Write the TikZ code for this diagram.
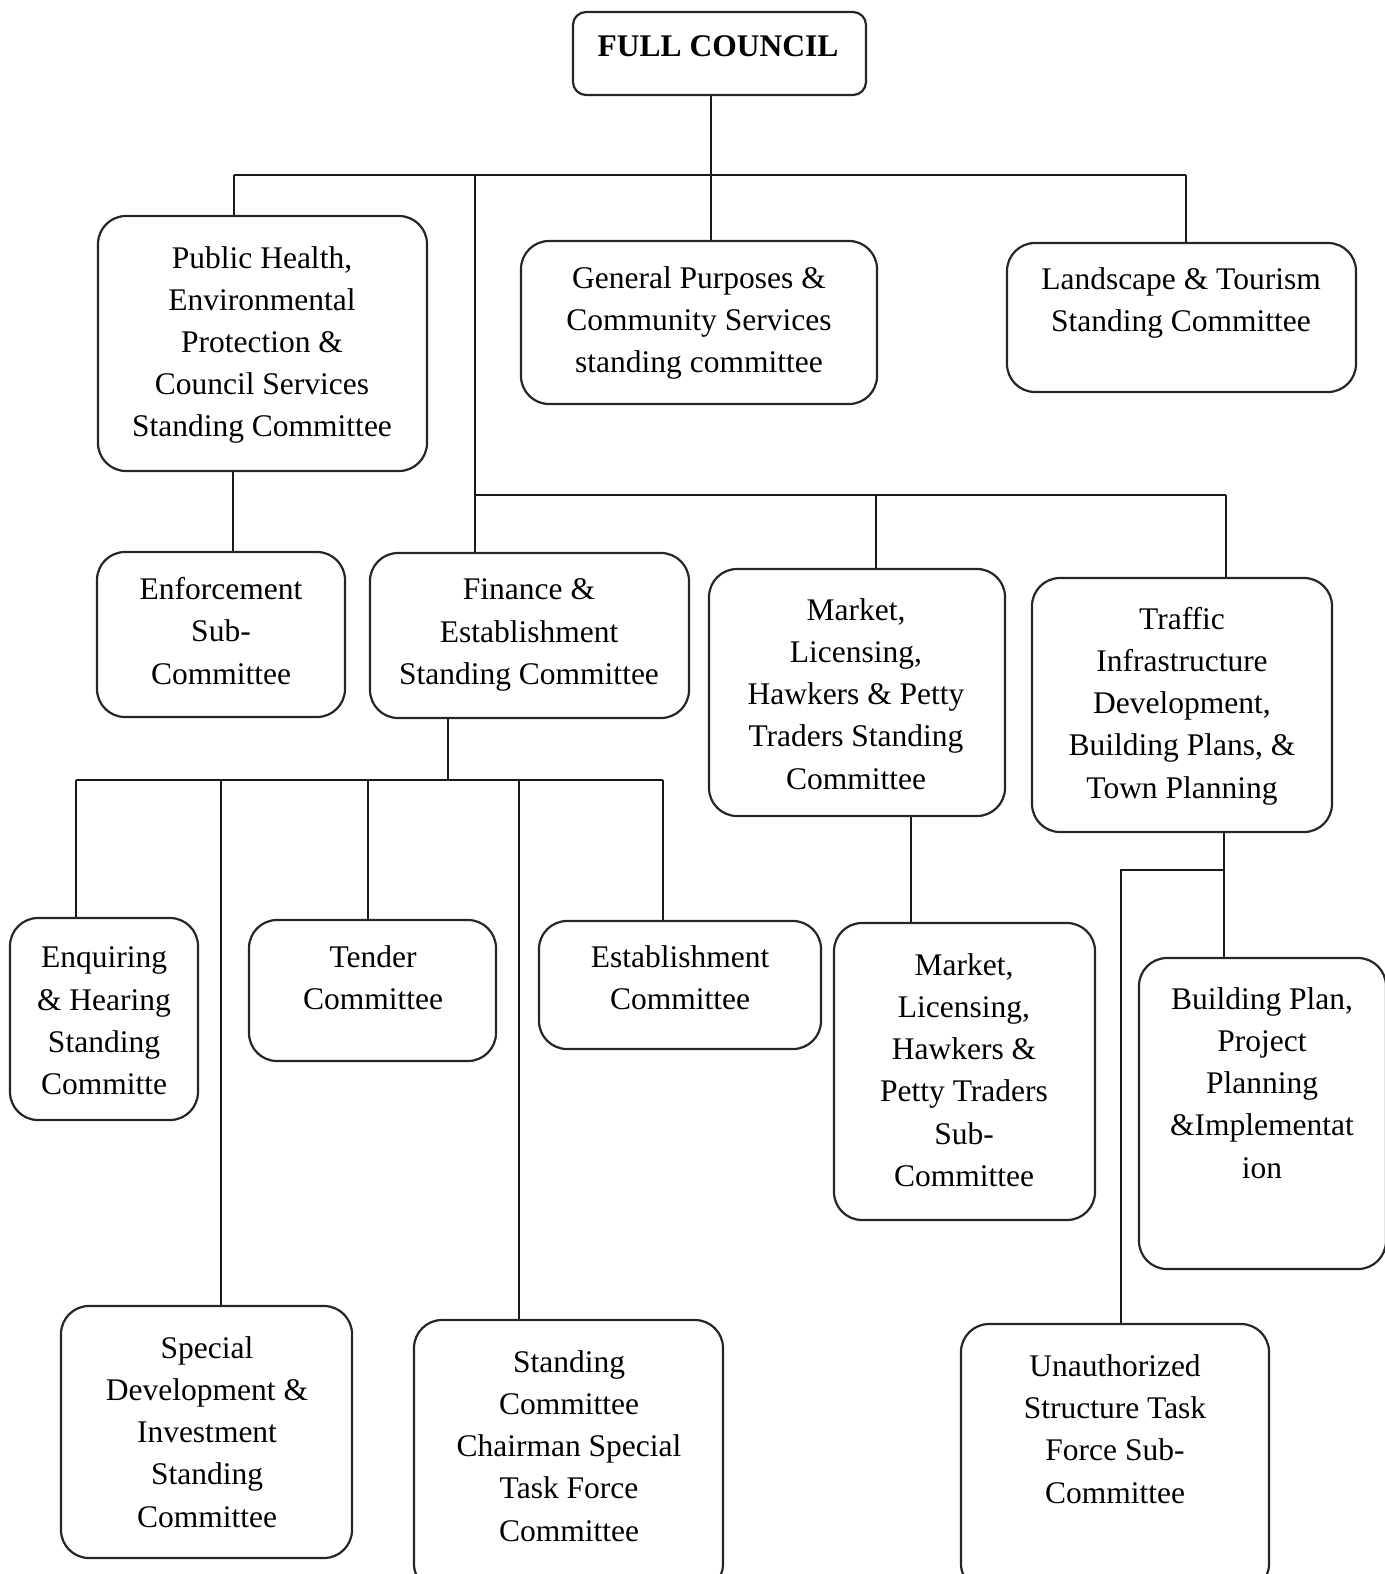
\documentclass[tikz,border=0pt]{standalone}
\usepackage{fontspec}
\setmainfont{Liberation Serif}
\begin{document}
\begin{tikzpicture}[x=1pt,y=-1pt,
  box/.style={draw=black!85,line width=2.2pt,rounded corners=28pt,inner sep=0pt},
  txt/.style={align=center,inner sep=0pt,font=\fontsize{31.5}{42.2}\selectfont},
  conn/.style={draw=black!90,line width=1.8pt}]
\useasboundingbox (0,0) rectangle (1384,1574);
% boxes
\node[box,rounded corners=13pt,minimum width=293pt,minimum height=83pt] (fc) at (719.5,53.5) {};
\node[box,minimum width=329pt,minimum height=255pt] (pub) at (262.5,343.5) {};
\node[box,minimum width=356pt,minimum height=163pt] (gen) at (699,322.5) {};
\node[box,minimum width=349pt,minimum height=149pt] (land) at (1181.5,317.5) {};
\node[box,minimum width=248pt,minimum height=165pt] (enf) at (221,634.5) {};
\node[box,minimum width=319pt,minimum height=165pt] (fin) at (529.5,635.5) {};
\node[box,minimum width=296pt,minimum height=247pt] (mkt) at (857,692.5) {};
\node[box,minimum width=300pt,minimum height=254pt] (trf) at (1182,705) {};
\node[box,minimum width=188pt,minimum height=202pt] (enq) at (104,1019) {};
\node[box,minimum width=247pt,minimum height=141pt] (ten) at (372.5,990.5) {};
\node[box,minimum width=282pt,minimum height=128pt] (est) at (680,985) {};
\node[box,minimum width=261pt,minimum height=297pt] (mks) at (964.5,1071.5) {};
\node[box,minimum width=247pt,minimum height=311pt] (bld) at (1262.5,1113.5) {};
\node[box,minimum width=291pt,minimum height=252pt] (spd) at (206.5,1432) {};
\node[box,minimum width=309pt,minimum height=272pt] (stc) at (568.5,1456) {};
\node[box,minimum width=308pt,minimum height=268pt] (una) at (1115,1458) {};
% texts
\node[txt,font=\fontsize{31.5}{42.2}\selectfont\bfseries] (tfc) at (718,46) {FULL COUNCIL};
\node[txt] (tpub) at (262,345) {Public Health,\\Environmental\\Protection \&\\Council Services\\Standing Committee};
\node[txt] (tgen) at (699,323) {General Purposes \&\\Community Services\\standing committee};
\node[txt] (tland) at (1181,303) {Landscape \& Tourism\\Standing Committee};
\node[txt] (tenf) at (221,631) {Enforcement\\Sub-\\Committee};
\node[txt] (tfin) at (529,635) {Finance \&\\Establishment\\Standing Committee};
\node[txt] (tmkt) at (856,694) {Market,\\Licensing,\\Hawkers \& Petty\\Traders Standing\\Committee};
\node[txt] (ttrf) at (1182,706) {Traffic\\Infrastructure\\Development,\\Building Plans, \&\\Town Planning};
\node[txt] (tenq) at (104,1021) {Enquiring\\\& Hearing\\Standing\\Committe};
\node[txt] (tten) at (373,978) {Tender\\Committee};
\node[txt] (test) at (680,978) {Establishment\\Committee};
\node[txt] (tmks) at (964,1070) {Market,\\Licensing,\\Hawkers \&\\Petty Traders\\Sub-\\Committee};
\node[txt] (tbld) at (1262,1083) {Building Plan,\\Project\\Planning\\\&Implementat\\ion};
\node[txt] (tspd) at (207,1432) {Special\\Development \&\\Investment\\Standing\\Committee};
\node[txt] (tstc) at (569,1446) {Standing\\Committee\\Chairman Special\\Task Force\\Committee};
\node[txt] (tuna) at (1115,1429) {Unauthorized\\Structure Task\\Force Sub-\\Committee};
% junction coordinates
\coordinate (j1) at (711,175);
\coordinate (j1l) at (234,175);
\coordinate (j1r) at (1186,175);
\coordinate (j1m) at (475,175);
\coordinate (j2) at (475,495);
\coordinate (j2r) at (1226,495);
\coordinate (j3) at (448,780);
\coordinate (j3l) at (76,780);
\coordinate (j3r) at (663,780);
\coordinate (j4) at (1224,870);
\coordinate (j4l) at (1121,870);
% connectors
\draw[conn] (fc.south -| j1) -- (j1);
\draw[conn] (j1l) -- (j1r);
\draw[conn] (j1l) -- (j1l |- pub.north);
\draw[conn] (j1) -- (j1 |- gen.north);
\draw[conn] (j1r) -- (j1r |- land.north);
\draw[conn] (j1m) -- (j2) -- (j2 |- fin.north);
\draw[conn] (j2) -- (j2r);
\draw[conn] (876,495) -- (876,0 |- mkt.north);
\draw[conn] (j2r) -- (j2r |- trf.north);
\draw[conn] (pub.south -| 233,0) -- (233,0 |- enf.north);
\draw[conn] (fin.south -| j3) -- (j3);
\draw[conn] (j3l) -- (j3r);
\draw[conn] (j3l) -- (j3l |- enq.north);
\draw[conn] (221,780) -- (221,0 |- spd.north);
\draw[conn] (368,780) -- (368,0 |- ten.north);
\draw[conn] (519,780) -- (519,0 |- stc.north);
\draw[conn] (j3r) -- (j3r |- est.north);
\draw[conn] (mkt.south -| 911,0) -- (911,0 |- mks.north);
\draw[conn] (trf.south -| j4) -- (j4) -- (j4 |- bld.north);
\draw[conn] (j4) -- (j4l) -- (j4l |- una.north);
\end{tikzpicture}
\end{document}
